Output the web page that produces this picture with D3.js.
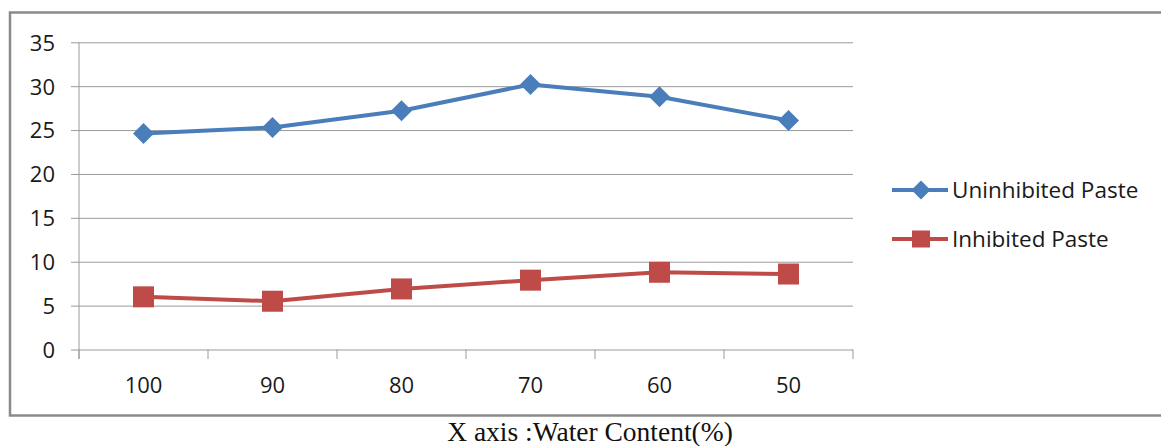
<!DOCTYPE html>
<html><head><meta charset="utf-8">
<script src="https://cdn.jsdelivr.net/npm/d3@7"></script>
<style>body{margin:0;background:#fff}svg{display:block}</style>
</head><body>
<svg id="c" width="1161" height="446"></svg>
<script>
const categories = ["100","90","80","70","60","50"];
const uninhibited = [24.6, 25.3, 27.2, 30.2, 28.8, 26.1];
const inhibited = [6.0, 5.5, 6.9, 7.9, 8.8, 8.6];
const yTicks = [0,5,10,15,20,25,30,35];
const seriesNames = ["Uninhibited Paste","Inhibited Paste"];
const xTitle = "X axis :Water Content(%)";

const svg = d3.select("#c");
const blue = "#4A7EBB", red = "#BE4B48", grid = "#9a9a9a", txt = "#1a1a1a";
const L = 79, R = 853, T = 42.3, B = 349.5;

svg.append("rect").attr("x",10).attr("y",12.5).attr("width",1200).attr("height",403)
  .attr("fill","none").attr("stroke","#8a8a8a").attr("stroke-width",2.5);

const x = d3.scaleBand().domain(categories).range([L,R]);
const y = d3.scaleLinear().domain([0,35]).range([B,T]);

// gridlines + y ticks
const yAxis = d3.axisLeft(y).tickValues(yTicks).tickSize(8).tickSizeOuter(0).tickPadding(16);
const gy = svg.append("g").attr("transform",`translate(${L},0)`).call(yAxis);
gy.select(".domain").remove();
gy.selectAll(".tick line").attr("stroke",grid).attr("x2",R-L).attr("x1",-8);
gy.selectAll(".tick text").attr("fill",txt).style("font-family","'Open Sans'").style("font-size","22px").attr("dy","0.36em");

// vertical axis line
svg.append("line").attr("x1",L).attr("x2",L).attr("y1",T).attr("y2",B+9.5).attr("stroke",grid).attr("stroke-width",1);

// x ticks at band boundaries
const bounds = categories.map(c=>x(c)).concat([x(categories[categories.length-1])+x.bandwidth()]);
svg.selectAll(".xt").data(bounds).join("line").attr("class","xt")
  .attr("x1",d=>d).attr("x2",d=>d).attr("y1",B).attr("y2",B+9.5).attr("stroke",grid);
svg.selectAll(".xl").data(categories).join("text").attr("class","xl")
  .attr("x",d=>x(d)+x.bandwidth()/2).attr("y",393).attr("text-anchor","middle")
  .attr("fill",txt).style("font-family","'Open Sans'").style("font-size","22px").text(d=>d);

const cx = (d,i)=>x(categories[i])+x.bandwidth()/2;
const line = d3.line().x(cx).y(d=>y(d));

svg.append("path").datum(uninhibited).attr("d",line).attr("fill","none").attr("stroke",blue).attr("stroke-width",4).attr("stroke-linejoin","round");
svg.append("path").datum(inhibited).attr("d",line).attr("fill","none").attr("stroke",red).attr("stroke-width",4).attr("stroke-linejoin","round");

const diamond = s => `M0,${-s}L${s},0L0,${s}L${-s},0Z`;
svg.selectAll(".dm").data(uninhibited).join("path").attr("class","dm")
  .attr("transform",(d,i)=>`translate(${cx(d,i)},${y(d)})`).attr("d",diamond(10.5)).attr("fill",blue);
svg.selectAll(".sq").data(inhibited).join("rect").attr("class","sq")
  .attr("x",(d,i)=>cx(d,i)-10.5).attr("y",d=>y(d)-10.5).attr("width",21).attr("height",21).attr("fill",red);

// legend
const lg = [{n:seriesNames[0],c:blue,y:190,m:"d"},{n:seriesNames[1],c:red,y:239,m:"s"}];
lg.forEach(e=>{
  svg.append("line").attr("x1",892).attr("x2",948).attr("y1",e.y).attr("y2",e.y).attr("stroke",e.c).attr("stroke-width",4);
  if(e.m==="d") svg.append("path").attr("transform",`translate(921,${e.y})`).attr("d",diamond(9.5)).attr("fill",e.c);
  else svg.append("rect").attr("x",912).attr("y",e.y-8.5).attr("width",18).attr("height",17).attr("fill",e.c);
  svg.append("text").attr("x",952).attr("y",e.y).attr("dy","0.36em").attr("fill",txt)
    .style("font-family","'Open Sans'").style("font-size","22.5px").text(e.n);
});

svg.append("text").attr("x",590).attr("y",441).attr("text-anchor","middle").attr("fill","#111")
  .style("font-family","'Liberation Serif'").style("font-size","27.5px").text(xTitle);
</script>
</body></html>
